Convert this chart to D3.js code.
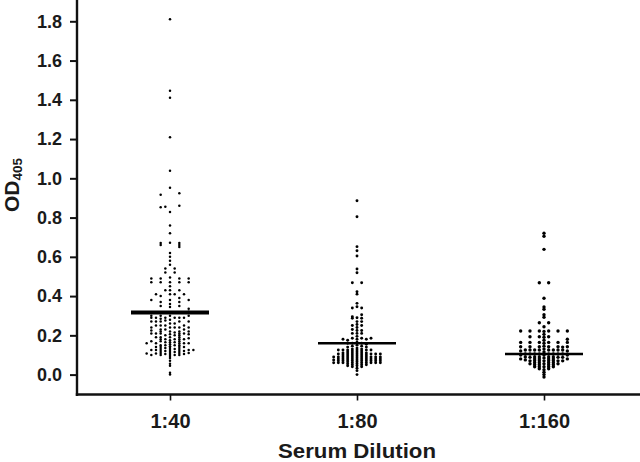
<!DOCTYPE html>
<html><head><meta charset="utf-8">
<script src="https://cdnjs.cloudflare.com/ajax/libs/d3/7.8.5/d3.min.js"></script>
<style>html,body{margin:0;background:#fff}svg{display:block}text{font-family:"Liberation Sans",Arial,sans-serif;font-weight:bold;fill:#1a1a1a}</style>
</head><body><svg id="c" width="640" height="462"></svg>
<script>
const categories = ["1:40","1:80","1:160"];
const yTicks = [0,0.2,0.4,0.6,0.8,1.0,1.2,1.4,1.6,1.8];
const means = [0.317,0.16,0.105];
// columns: slot offset from the group's centre, then the values seen in that column
const slots = [-5,-4,-3,-2,-1,0,1,2,3,4,5];
const dil40 = [
 [0.108,0.16],
 [0.10,0.125,0.17,0.21,0.225,0.24,0.27,0.29,0.30,0.38,0.47,0.49],
 [0.108,0.125,0.14,0.16,0.19,0.21,0.25,0.27,0.29,0.41],
 [0.10,0.11,0.12,0.13,0.14,0.15,0.17,0.18,0.19,0.21,0.22,0.23,0.25,0.27,0.285,0.30,0.35,0.37,0.40,0.47,0.49,0.66,0.67,0.853,0.916],
 [0.105,0.12,0.135,0.15,0.165,0.18,0.20,0.23,0.25,0.275,0.29,0.43,0.52,0.54,0.855],
 [0.0,0.01,0.045,0.055,0.07,0.085,0.095,0.105,0.115,0.125,0.135,0.145,0.155,0.165,0.175,0.19,0.205,0.22,0.24,0.26,0.28,0.30,0.345,0.36,0.38,0.41,0.43,0.45,0.47,0.495,0.56,0.58,0.60,0.62,0.672,0.72,0.76,0.828,0.952,1.039,1.209,1.41,1.446,1.81],
 [0.10,0.115,0.13,0.15,0.165,0.18,0.20,0.215,0.24,0.26,0.29,0.41,0.52,0.54],
 [0.10,0.11,0.12,0.13,0.14,0.15,0.16,0.17,0.18,0.19,0.20,0.21,0.22,0.24,0.27,0.29,0.35,0.37,0.39,0.43,0.47,0.49,0.65,0.66,0.67,0.86,0.924],
 [0.105,0.12,0.14,0.16,0.18,0.21,0.23,0.25,0.29,0.41],
 [0.11,0.125,0.16,0.185,0.205,0.22,0.24,0.27,0.30,0.32,0.335,0.38,0.47,0.49],
 [0.125]
];
const dil80 = [
 [0.06,0.075,0.09],
 [0.06,0.07,0.08,0.09,0.105,0.125],
 [0.06,0.07,0.08,0.09,0.10,0.11,0.125,0.18],
 [0.045,0.055,0.065,0.075,0.085,0.095,0.105,0.115,0.125,0.14,0.16,0.175],
 [0.04,0.05,0.06,0.07,0.08,0.09,0.10,0.11,0.12,0.13,0.145,0.16,0.185,0.21,0.23,0.25,0.295,0.287,0.339,0.468],
 [0.0,0.02,0.032,0.045,0.055,0.065,0.075,0.085,0.095,0.105,0.115,0.125,0.135,0.15,0.165,0.18,0.195,0.21,0.225,0.24,0.255,0.27,0.29,0.346,0.363,0.41,0.422,0.519,0.538,0.604,0.631,0.652,0.804,0.886],
 [0.04,0.05,0.06,0.07,0.08,0.09,0.10,0.11,0.12,0.13,0.145,0.16,0.185,0.21,0.225,0.25,0.27,0.287,0.305,0.339,0.468],
 [0.05,0.06,0.07,0.08,0.09,0.10,0.11,0.125,0.14,0.155,0.18],
 [0.06,0.07,0.08,0.09,0.105,0.125,0.185],
 [0.06,0.07,0.08,0.09,0.105],
 [0.06,0.07,0.08,0.09,0.105]
];
const dil160 = [
 [0.08,0.10,0.12,0.142,0.164,0.222],
 [0.075,0.09,0.105,0.125],
 [0.055,0.07,0.088,0.105,0.125,0.142,0.164,0.193,0.222],
 [0.04,0.05,0.06,0.07,0.08,0.09,0.105,0.125],
 [0.03,0.04,0.05,0.06,0.07,0.08,0.09,0.105,0.125,0.142,0.164,0.193,0.222,0.264,0.468],
 [-0.012,0.0,0.012,0.025,0.04,0.055,0.07,0.085,0.10,0.115,0.13,0.145,0.16,0.175,0.19,0.205,0.22,0.244,0.292,0.305,0.333,0.345,0.389,0.638,0.705,0.72],
 [0.03,0.04,0.05,0.06,0.07,0.08,0.09,0.105,0.125,0.142,0.164,0.193,0.222,0.264,0.468],
 [0.04,0.05,0.06,0.07,0.08,0.09,0.105,0.125],
 [0.055,0.07,0.088,0.105,0.125,0.142,0.164,0.222],
 [0.07,0.088,0.105,0.125,0.14],
 [0.08,0.10,0.12,0.142,0.164,0.18,0.222]
];
const groups = [dil40,dil80,dil160];

const svg = d3.select("#c");
const x = d3.scalePoint().domain(categories).range([170,544]);
const y = d3.scaleLinear().domain([0,1.8]).range([374.6,21.3]);
const slotX = d3.scaleLinear().domain([-1,1]).range([-4.67,4.67]);
const dark = "#111";
const dotR = [1.25,1.45,1.7];

// slight softening like the scanned source
svg.append("defs").append("filter").attr("id","soft")
  .append("feGaussianBlur").attr("stdDeviation",0.3);

// dots
groups.forEach((cols,g)=>{
  const pts = cols.flatMap((vals,i)=>vals.map(v=>({s:slots[i],v})));
  svg.append("g").attr("filter","url(#soft)").selectAll("circle").data(pts).join("circle")
    .attr("cx",d=>x(categories[g])+slotX(d.s))
    .attr("cy",d=>y(d.v))
    .attr("r",dotR[g]).attr("fill","#000");
});
// mean bars
const meanHalf = 39, meanW=[4,2.6,2.6];
svg.append("g").selectAll("line").data(means).join("line")
  .attr("x1",(d,i)=>x(categories[i])-meanHalf)
  .attr("x2",(d,i)=>x(categories[i])+meanHalf)
  .attr("y1",d=>y(d)).attr("y2",d=>y(d))
  .attr("stroke","#000").attr("stroke-width",(d,i)=>meanW[i]);

// axes
const yAxis = d3.axisLeft(y).tickValues(yTicks).tickFormat(d3.format(".1f")).tickSize(7).tickPadding(8);
const gy = svg.append("g").attr("transform","translate(77,0)").call(yAxis);
const xAxis = d3.axisBottom(x).tickSize(6).tickPadding(13);
const gx = svg.append("g").attr("transform","translate(0,394.5)").call(xAxis);
gy.select(".domain").attr("d","M0,0V396").attr("stroke",dark).attr("stroke-width",2.4);
gx.select(".domain").attr("d","M75.8,0H640").attr("stroke",dark).attr("stroke-width",2.4);
gy.selectAll(".tick line").attr("stroke",dark).attr("stroke-width",2);
gx.selectAll(".tick line").attr("stroke",dark).attr("stroke-width",1.6);
gy.selectAll("text").style("font-size","18px").attr("fill","#1a1a1a");
gx.selectAll("text").style("font-size","20px").attr("fill","#1a1a1a");

svg.append("text").attr("x",357).attr("y",457.5).attr("text-anchor","middle")
  .style("font-size","19.5px").attr("textLength",158).attr("lengthAdjust","spacingAndGlyphs").text("Serum Dilution");
const yl = svg.append("text").attr("transform","translate(19,212) rotate(-90)");
yl.append("tspan").style("font-size","21px").text("OD");
yl.append("tspan").attr("dy",3).style("font-size","13.5px").text("405");
</script></body></html>
